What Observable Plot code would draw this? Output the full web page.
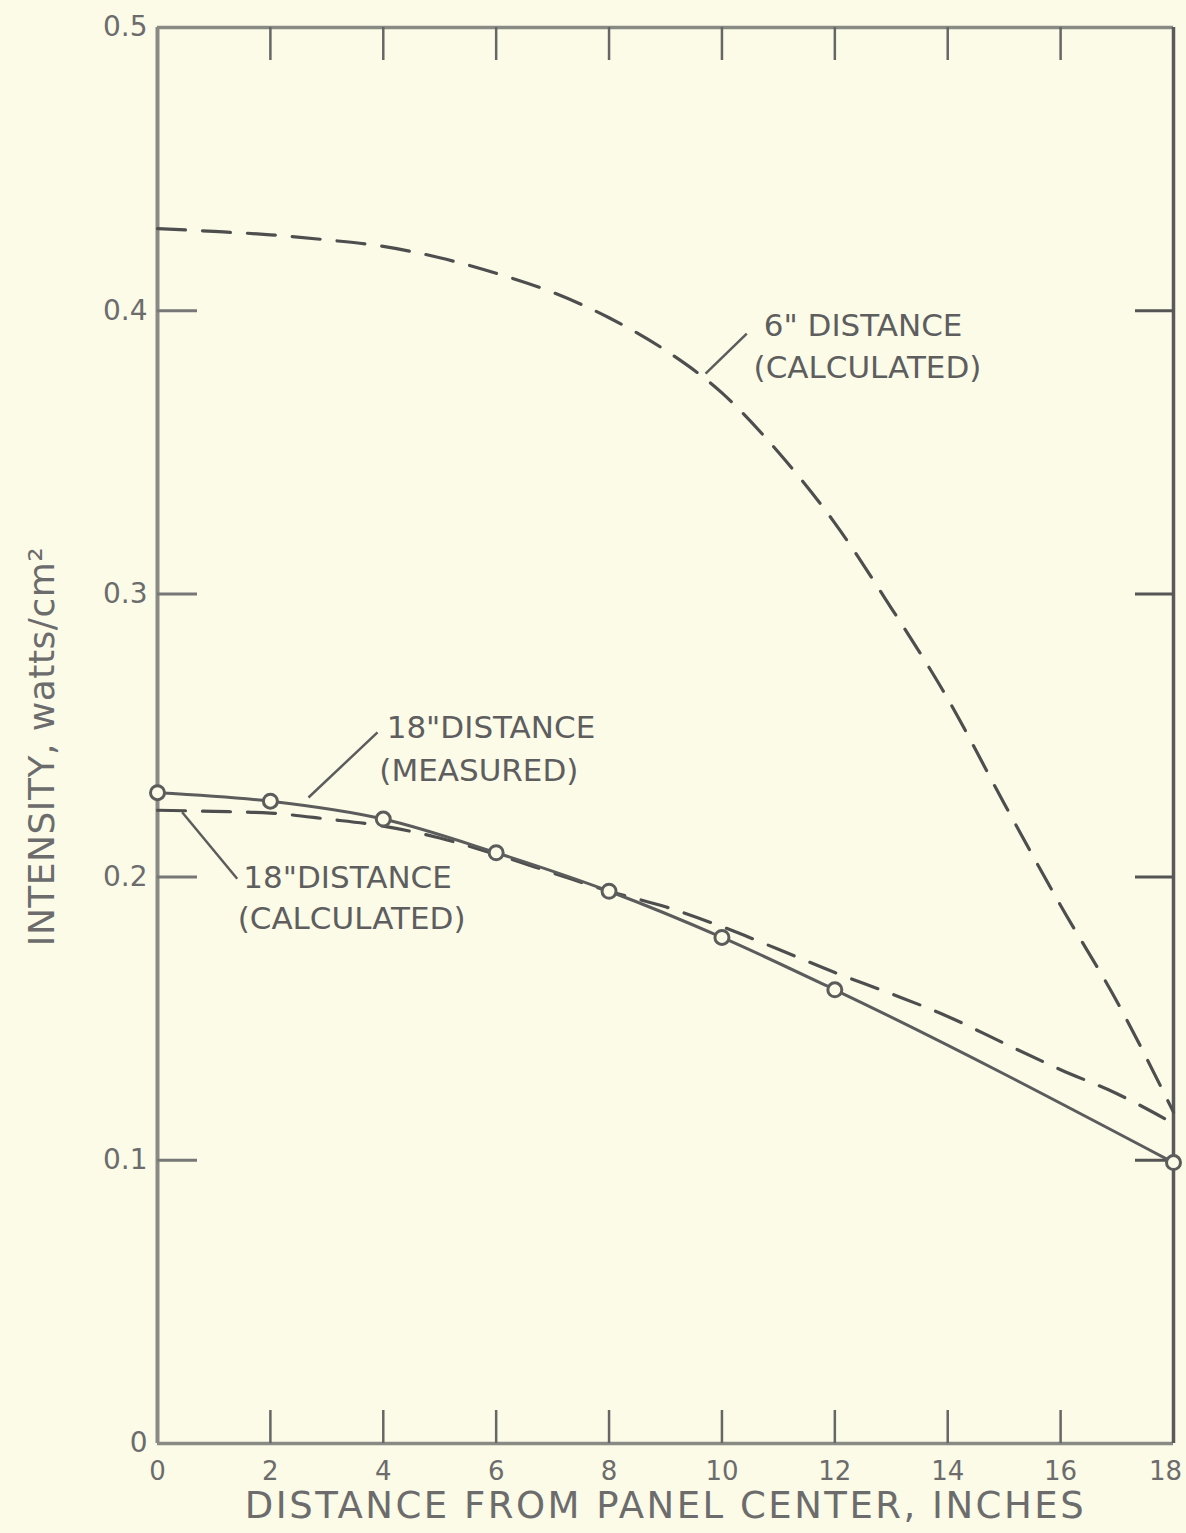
<!DOCTYPE html>
<html>
<head>
<meta charset="utf-8">
<script src="https://cdn.jsdelivr.net/npm/d3@7"></script>
<script src="https://cdn.jsdelivr.net/npm/@observablehq/plot@0.6"></script>
<style>
  html, body { margin: 0; padding: 0; background: #fbfbe8; }
  #chart svg { display: block; }
</style>
</head>
<body>
<div id="chart"></div>
<script>
// ---- data ----
const xCalc = [0, 1, 2, 3, 4, 5, 6, 7, 8, 9, 10, 11, 12, 13, 14, 15, 16, 17, 18];
const calc6in = [0.429, 0.428, 0.4268, 0.425, 0.4227, 0.4187, 0.4132, 0.4065, 0.3975, 0.386, 0.371, 0.350, 0.325, 0.295, 0.263, 0.226, 0.190, 0.156, 0.117];
const calc18in = [0.2236, 0.2232, 0.2226, 0.2205, 0.218, 0.2138, 0.208, 0.2015, 0.195, 0.1895, 0.1825, 0.1745, 0.1663, 0.1588, 0.1508, 0.1413, 0.132, 0.1235, 0.113];
const xMeas = [0, 2, 4, 6, 8, 10, 12, 18];
const meas18in = [0.2298, 0.2268, 0.2205, 0.2086, 0.195, 0.1787, 0.1602, 0.0992];

const xTicks = [0, 2, 4, 6, 8, 10, 12, 14, 16];
const xLastTick = [18];
const xInnerTicks = [2, 4, 6, 8, 10, 12, 14, 16];
const yTicks = [0, 0.1, 0.2, 0.3, 0.4, 0.5];
const yTickLabels = ["0", "0.1", "0.2", "0.3", "0.4", "0.5"];
const yInnerTicks = [0.1, 0.2, 0.3, 0.4];

const xTitle = "DISTANCE FROM PANEL CENTER, INCHES";
const yTitle = "INTENSITY, watts/cm\u00B2";

// annotation labels and leader lines (data coordinates)
const labels = [
  {x: 10.74, y: 0.3944, text: "6\" DISTANCE"},
  {x: 10.56, y: 0.3799, text: "(CALCULATED)"},
  {x: 4.06, y: 0.2526, text: "18\"DISTANCE"},
  {x: 3.93, y: 0.2375, text: "(MEASURED)"},
  {x: 1.52, y: 0.1995, text: "18\"DISTANCE"},
  {x: 1.42, y: 0.1852, text: "(CALCULATED)"}
];
const leaders = [
  {x1: 9.71, y1: 0.3778, x2: 10.44, y2: 0.3919},
  {x1: 2.675, y1: 0.2281, x2: 3.898, y2: 0.2511},
  {x1: 0.437, y1: 0.2229, x2: 1.412, y2: 0.1994}
];

// ---- build tables ----
const series6 = xCalc.map((x, i) => ({x, y: calc6in[i]}));
const series18c = xCalc.map((x, i) => ({x, y: calc18in[i]}));
const series18m = xMeas.map((x, i) => ({x, y: meas18in[i]}));

// ---- layout / style ----
const W = 1186, H = 1533;
const mL = 157, mR = 13, mT = 27, mB = 90;
const plotW = W - mL - mR, plotH = H - mT - mB;
const bg = "#fbfbe8";
const ink = "#4e4e4e";
const axisInk = "#8a8a84";
const textInk = "#6c6c6c";
const font = "DejaVu Sans, sans-serif";

const chart = Plot.plot({
  width: W,
  height: H,
  marginLeft: mL,
  marginRight: mR,
  marginTop: mT,
  marginBottom: mB,
  style: {background: bg, fontFamily: font, color: textInk},
  x: {domain: [0, 18], axis: null},
  y: {domain: [0, 0.5], axis: null},
  marks: [
    // frame
    Plot.ruleX([0], {stroke: axisInk, strokeWidth: 4}),
    Plot.ruleY([0], {stroke: axisInk, strokeWidth: 3.5}),
    Plot.ruleY([0.5], {stroke: axisInk, strokeWidth: 3.5}),
    Plot.ruleX([18], {stroke: "#5a5a5a", strokeWidth: 3.5}),
    // inward ticks
    Plot.tickX(xInnerTicks, {x: d => d, insetTop: plotH - 33, stroke: "#666", strokeWidth: 2.5}),
    Plot.tickX(xInnerTicks, {x: d => d, insetBottom: plotH - 33, stroke: "#666", strokeWidth: 2.5}),
    Plot.tickY(yInnerTicks, {y: d => d, insetRight: plotW - 40, stroke: "#777", strokeWidth: 3}),
    Plot.tickY(yInnerTicks, {y: d => d, insetLeft: plotW - 38, stroke: "#555", strokeWidth: 3}),
    // tick labels
    Plot.text(xTicks, {x: d => d, text: d => String(d), frameAnchor: "bottom", dy: 28, textAnchor: "middle", lineAnchor: "middle", fontSize: 26, fill: textInk}),
    Plot.text(xLastTick, {x: d => d, text: d => String(d), frameAnchor: "bottom", dx: -8, dy: 28, textAnchor: "middle", lineAnchor: "middle", fontSize: 26, fill: textInk}),
    Plot.text(yTicks, {y: d => d, text: (d, i) => yTickLabels[i], frameAnchor: "left", dx: -10, textAnchor: "end", lineAnchor: "middle", fontSize: 28, fill: textInk}),
    // axis titles
    Plot.text([xTitle], {text: d => d, frameAnchor: "bottom", dy: 63, textAnchor: "middle", lineAnchor: "middle", fontSize: 37, fill: textInk}),
    Plot.text([yTitle], {text: d => d, frameAnchor: "left", dx: -115, dy: 11, rotate: -90, textAnchor: "middle", lineAnchor: "middle", fontSize: 36, fill: textInk}),
    // curves
    Plot.line(series6, {x: "x", y: "y", curve: "monotone-x", stroke: ink, strokeWidth: 3.2, strokeDasharray: "28,17", strokeLinecap: "round"}),
    Plot.line(series18c, {x: "x", y: "y", curve: "monotone-x", stroke: ink, strokeWidth: 3.2, strokeDasharray: "28,17", strokeLinecap: "round"}),
    Plot.line(series18m, {x: "x", y: "y", curve: "monotone-x", stroke: "#5c5c5c", strokeWidth: 3}),
    Plot.dot(series18m, {x: "x", y: "y", r: 7, stroke: "#5c5c5c", strokeWidth: 3, fill: bg}),
    // annotations
    Plot.link(leaders, {x1: "x1", y1: "y1", x2: "x2", y2: "y2", stroke: "#5c5c5c", strokeWidth: 2.5}),
    Plot.text(labels, {x: "x", y: "y", text: "text", textAnchor: "start", lineAnchor: "middle", fontSize: 31, fill: "#5e5e5e"})
  ]
});

// widen the lettering of the two axis titles, as in the hand-lettered original
d3.select(chart).selectAll("text").each(function () {
  const t = this.textContent;
  if (t === xTitle) this.setAttribute("letter-spacing", "2.5");
  if (t === yTitle) this.setAttribute("letter-spacing", "0.5");
});

document.getElementById("chart").append(chart);
</script>
</body>
</html>
